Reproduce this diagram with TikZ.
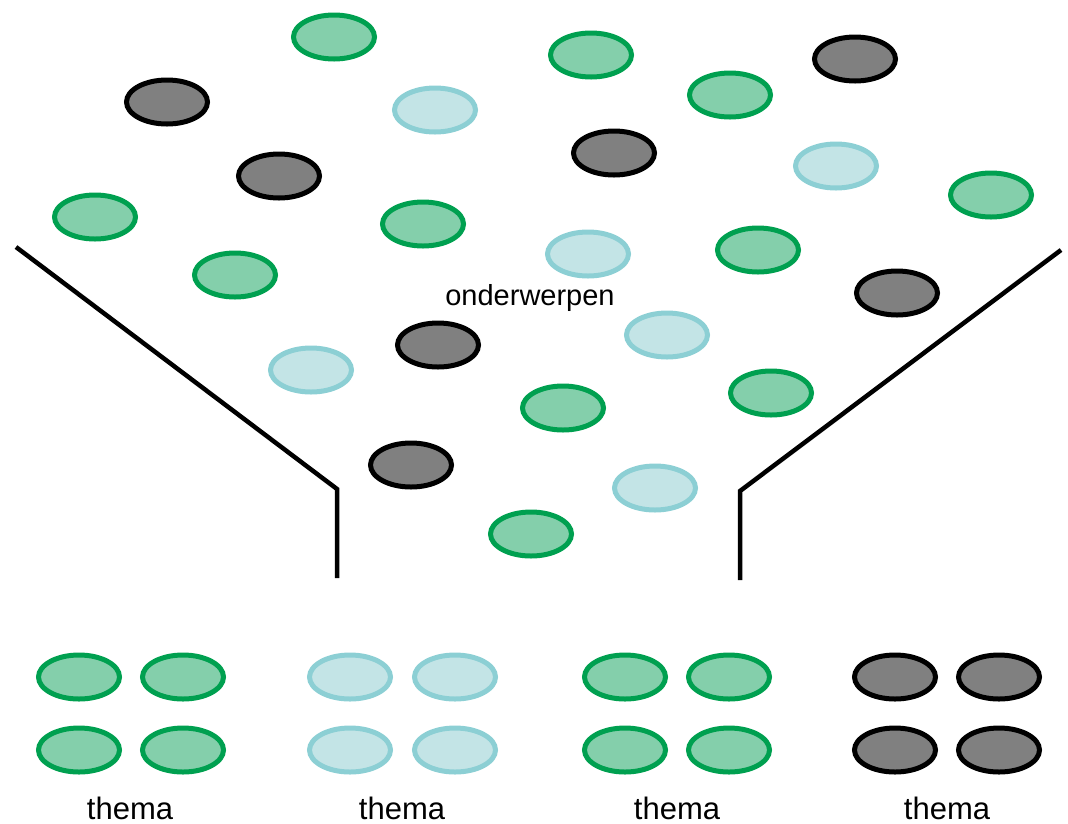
\documentclass[tikz,border=0pt]{standalone}
\usepackage{fontspec}
\setmainfont{Liberation Sans}
\usetikzlibrary{shapes.geometric}
\definecolor{gfill}{HTML}{84CFAB}
\definecolor{gline}{HTML}{00A050}
\definecolor{lfill}{HTML}{C3E4E6}
\definecolor{lline}{HTML}{8CCFD4}
\definecolor{dfill}{HTML}{808080}
\tikzset{
  dot/.style={ellipse, inner sep=0pt, minimum width=81pt, minimum height=44pt, line width=5pt},
  gdot/.style={dot, draw=gline, fill=gfill},
  ldot/.style={dot, draw=lline, fill=lfill},
  ddot/.style={dot, draw=black, fill=dfill},
  funnel/.style={draw=black, line width=4.5pt},
  lbl/.style={font=\fontsize{29pt}{32pt}\selectfont, inner sep=0pt},
  tlbl/.style={font=\fontsize{31pt}{34pt}\selectfont, inner sep=0pt}
}
\begin{document}
\begin{tikzpicture}[x=1pt,y=-1pt]
\useasboundingbox (0,0) rectangle (1068,823);
% funnel
\coordinate (l1) at (16,247);
\coordinate (l2) at (337,489);
\coordinate (l3) at (337,578);
\coordinate (r1) at (1061,250);
\coordinate (r2) at (740,491);
\coordinate (r3) at (740,580);
\draw[funnel] (l1) -- (l2) -- (l3);
\draw[funnel] (r1) -- (r2) -- (r3);
% top subjects
\node[gdot] (t1) at (334,37) {};
\node[ddot] (t2) at (167,102) {};
\node[ldot] (t3) at (435,110) {};
\node[ddot] (t4) at (279,176) {};
\node[gdot] (t5) at (95,217) {};
\node[gdot] (t6) at (423,224) {};
\node[gdot] (t7) at (235,275) {};
\node[ldot] (t8) at (311,370) {};
\node[ddot] (t9) at (438,345) {};
\node[gdot] (t10) at (563,408) {};
\node[ddot] (t11) at (411,465) {};
\node[ldot] (t12) at (655,488) {};
\node[gdot] (t13) at (531,534) {};
\node[gdot] (t14) at (591,55) {};
\node[ddot] (t15) at (855,59) {};
\node[gdot] (t16) at (730,95) {};
\node[ddot] (t17) at (614,153) {};
\node[ldot] (t18) at (836,166) {};
\node[gdot] (t19) at (991,195) {};
\node[ldot] (t20) at (588,254) {};
\node[gdot] (t21) at (758,250) {};
\node[ddot] (t22) at (897,293) {};
\node[ldot] (t23) at (667,335) {};
\node[gdot] (t24) at (771,393) {};
\node[lbl] (onder) at (530,298) {onderwerpen};
% bottom groups
\node[gdot] (a1) at (79,677) {};
\node[gdot] (a2) at (183,677) {};
\node[gdot] (a3) at (79,750) {};
\node[gdot] (a4) at (183,750) {};
\node[ldot] (b1) at (350,677) {};
\node[ldot] (b2) at (455,677) {};
\node[ldot] (b3) at (350,750) {};
\node[ldot] (b4) at (455,750) {};
\node[gdot] (c1) at (625,677) {};
\node[gdot] (c2) at (729,677) {};
\node[gdot] (c3) at (625,750) {};
\node[gdot] (c4) at (729,750) {};
\node[ddot] (d1) at (895,677) {};
\node[ddot] (d2) at (999,677) {};
\node[ddot] (d3) at (895,750) {};
\node[ddot] (d4) at (999,750) {};
\node[tlbl] (la) at (130,808) {thema};
\node[tlbl] (lb) at (402,808) {thema};
\node[tlbl] (lc) at (677,808) {thema};
\node[tlbl] (ld) at (947,808) {thema};
\end{tikzpicture}
\end{document}
